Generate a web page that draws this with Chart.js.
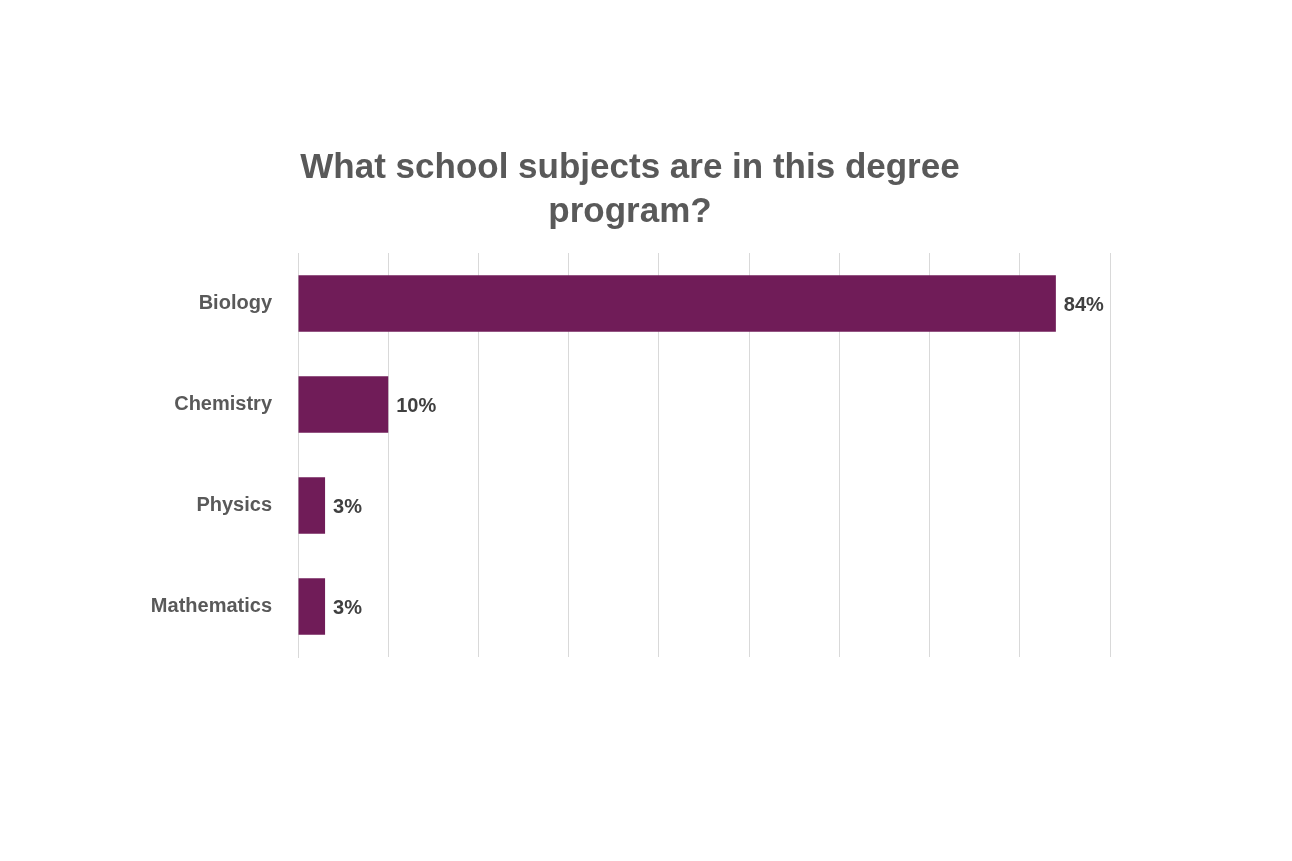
<!DOCTYPE html>
<html><head><meta charset="utf-8">
<script src="https://cdn.jsdelivr.net/npm/chart.js@4/dist/chart.umd.min.js"></script>
<style>html,body{margin:0;padding:0;background:#fff}#wrap{width:1292px;height:861px}</style>
</head><body><div id="wrap"><canvas id="c"></canvas></div>
<script>
const categories = ["Biology","Chemistry","Physics","Mathematics"];
const values = [84,10,3,3];
const titleLines = ["What school subjects are in this degree","program?"];

const titlePlugin = {id:'t', afterDraw(ch){
  const ctx=ch.ctx; ctx.save();
  ctx.font='bold 35px "Liberation Sans", Arial, sans-serif';
  ctx.fillStyle='#595959'; ctx.textAlign='center'; ctx.textBaseline='middle';
  ctx.fillText(titleLines[0],630,168); ctx.fillText(titleLines[1],630,212);
  ctx.restore();
}};
const labelPlugin = {id:'l', afterDatasetsDraw(ch){
  const ctx=ch.ctx; ctx.save();
  ctx.font='bold 20px "Liberation Sans", Arial, sans-serif';
  ctx.fillStyle='#404040'; ctx.textBaseline='middle';
  ch.getDatasetMeta(0).data.forEach((b,i)=>{ctx.fillText(values[i]+'%',b.x+8,b.y+2);});
  ctx.restore();
}};
new Chart(document.getElementById('c'),{
  type:'bar',
  data:{labels:categories,datasets:[{data:values,backgroundColor:'#701C58',categoryPercentage:1,barPercentage:0.56}]},
  options:{
    indexAxis:'y',responsive:true,maintainAspectRatio:false,animation:false,
    layout:{padding:{left:0,right:182,top:253,bottom:204}},
    plugins:{legend:{display:false},tooltip:{enabled:false}},
    scales:{
      x:{min:0,max:90,ticks:{stepSize:10,display:false},grid:{color:'#d9d9d9',drawTicks:false},border:{display:false}},
      y:{grid:{display:false},border:{color:'#d9d9d9'},
         ticks:{color:'#595959',padding:18,font:{family:'"Liberation Sans", Arial, sans-serif',size:20,weight:'bold'}},
         afterFit(s){s.width=298;}}
    }
  },
  plugins:[titlePlugin,labelPlugin]
});
</script></body></html>
